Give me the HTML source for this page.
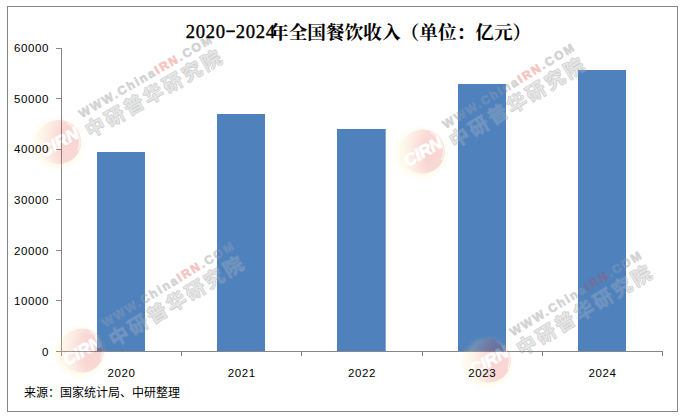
<!DOCTYPE html>
<html lang="zh-CN"><head><meta charset="utf-8"><title>2020-2024年全国餐饮收入（单位：亿元）</title>
<style>
html,body{margin:0;padding:0;background:#fff}
body{width:682px;height:417px;position:relative;overflow:hidden;font-family:"Liberation Sans",sans-serif;color:#000}
.yl{position:absolute;left:0;width:49px;text-align:right;font-size:11.5px;line-height:14px;letter-spacing:0.6px;height:14px}
.xl{position:absolute;top:366px;width:120px;text-align:center;font-size:11.5px;line-height:14px;letter-spacing:0.6px}
.tnum{position:absolute;left:185.3px;top:20.6px;font-family:"Liberation Serif",serif;font-weight:normal;-webkit-text-stroke:0.38px #000;font-size:18.6px;line-height:22px;white-space:nowrap}
.tnum span{display:inline-block;width:10px;text-align:center}
.tnum .d{color:transparent;-webkit-text-stroke:0}
.ghost{position:absolute;color:#000;white-space:nowrap;overflow:hidden}
</style></head><body>
<svg width="682" height="417" viewBox="0 0 682 417" style="position:absolute;left:0;top:0"><defs>
<radialGradient id="lg" cx="0.62" cy="0.58" r="0.75">
<stop offset="0" stop-color="#e0312a"/><stop offset="0.5" stop-color="#e5402e"/><stop offset="0.8" stop-color="#ee7a50"/><stop offset="1" stop-color="#f6c08a"/>
</radialGradient>
<radialGradient id="glow" cx="0.5" cy="0.5" r="0.5">
<stop offset="0.78" stop-color="#ffe873" stop-opacity="0.65"/><stop offset="1" stop-color="#ffe25a" stop-opacity="0"/>
</radialGradient>
<linearGradient id="fade" gradientUnits="userSpaceOnUse" x1="-19" y1="-11" x2="19" y2="11">
<stop offset="0" stop-color="#fff2b8" stop-opacity="0.9"/><stop offset="0.3" stop-color="#fff2b8" stop-opacity="0.45"/><stop offset="0.6" stop-color="#fff2b8" stop-opacity="0"/>
</linearGradient>
<g id="wml">
<circle cx="-2.2" cy="0.7" r="27.5" fill="url(#glow)"/>
<circle r="22" fill="url(#lg)"/><circle r="22" fill="url(#fade)"/>
<path d="M16.5 -12.5A21 21 0 0 1 12 17" fill="none" stroke="#fff" stroke-width="1.6" opacity="0.6"/>
<text x="0" y="6.1" text-anchor="middle" font-family="Liberation Sans, sans-serif" font-weight="bold" font-style="italic" font-size="17" fill="#fff" stroke="#fff" stroke-width="0.7">CIRN</text>
</g>
<g id="wmt">
<text x="31.6" y="-9.2" font-family="Liberation Sans, sans-serif" font-weight="bold" font-size="12" letter-spacing="1.95" fill="currentColor" stroke="currentColor" stroke-width="0.7">WWW.China<tspan fill="#e0392d" stroke="#e0392d">IRN</tspan>.COM</text>
<text x="29" y="12.5" font-family="'Liberation Sans', 'Noto Sans CJK SC', sans-serif" font-weight="bold" font-size="19.5" letter-spacing="2.8" fill="currentColor" stroke="currentColor" stroke-width="1.3" stroke-linejoin="round">中研普华研究院</text>
<text x="29" y="12.5" font-family="'Liberation Sans', 'Noto Sans CJK SC', sans-serif" font-size="19.5" letter-spacing="2.8" fill="#fff" opacity="0.5">中研普华研究院</text>
</g>
<clipPath id="cin"><path d="M97 152h48v199h-48zM217 114h48v237h-48zM337 129h48v222h-48zM458 84h48v267h-48zM578 70h48v281h-48z"/></clipPath><clipPath id="cout"><path clip-rule="evenodd" d="M0 0H682V417H0zM97 152h48v199h-48zM217 114h48v237h-48zM337 129h48v222h-48zM458 84h48v267h-48zM578 70h48v281h-48z"/></clipPath></defs>
<rect x="7.5" y="6.5" width="670" height="405" fill="#fff" stroke="#868686" stroke-width="1"/>
<rect x="97" y="152" width="48" height="199" fill="#4F81BD"/>
<rect x="217" y="114" width="48" height="237" fill="#4F81BD"/>
<rect x="337" y="129" width="48.7" height="222" fill="#4F81BD"/>
<rect x="458" y="84" width="48" height="267" fill="#4F81BD"/>
<rect x="578" y="70" width="48" height="281" fill="#4F81BD"/>
<path d="M61.5 48V356M56 351.5H663" stroke="#868686" stroke-width="1" fill="none"/>
<path d="M56 48.5H61M56 98.5H61M56 149.5H61M56 199.5H61M56 250.5H61M56 300.5H61M56 351.5H61M181.5 352V356M301.5 352V356M422.5 352V356M542.5 352V356M662.5 352V356" stroke="#868686" stroke-width="1" fill="none"/>
<rect x="226.3" y="30.4" width="8.6" height="1.8" fill="#000"/>
<use href="#wml" transform="translate(59 142) rotate(-30)" opacity="0.2"/>
<g clip-path="url(#cout)"><use href="#wmt" transform="translate(59 142) rotate(-30)" opacity="0.3" color="#6c6c6c"/></g>
<g clip-path="url(#cin)"><use href="#wmt" transform="translate(59 142) rotate(-30)" opacity="0.24" color="#b4b4b4"/></g>
<use href="#wml" transform="translate(422.7 151.5) rotate(-30)" opacity="0.2"/>
<g clip-path="url(#cout)"><use href="#wmt" transform="translate(423.6 153.15) rotate(-31.3)" opacity="0.3" color="#6c6c6c"/></g>
<g clip-path="url(#cin)"><use href="#wmt" transform="translate(423.6 153.15) rotate(-31.3)" opacity="0.24" color="#b4b4b4"/></g>
<use href="#wml" transform="translate(81.9 350.6) rotate(-30)" opacity="0.2"/>
<g clip-path="url(#cout)"><use href="#wmt" transform="translate(83.0 351.75) rotate(-31.3)" opacity="0.3" color="#6c6c6c"/></g>
<g clip-path="url(#cin)"><use href="#wmt" transform="translate(83.0 351.75) rotate(-31.3)" opacity="0.24" color="#b4b4b4"/></g>
<use href="#wml" transform="translate(488.8 360.5) rotate(-30)" opacity="0.2"/>
<g clip-path="url(#cout)"><use href="#wmt" transform="translate(490.8 360.85) rotate(-31.3)" opacity="0.3" color="#6c6c6c"/></g>
<g clip-path="url(#cin)"><use href="#wmt" transform="translate(490.8 360.85) rotate(-31.3)" opacity="0.24" color="#b4b4b4"/></g></svg>
<div class="tnum"><span>2</span><span>0</span><span>2</span><span>0</span><span class="d">-</span><span>2</span><span>0</span><span>2</span><span>4</span></div>
<div class="ghost" style="left:270px;top:22px;font-family:'Liberation Serif','Noto Serif CJK SC',serif;font-weight:bold;font-size:18.67px;line-height:22px;width:262px;height:22px">年全国餐饮收入（单位：亿元）</div>
<div class="ghost" style="left:24px;top:386px;font-family:'Liberation Sans','Noto Sans CJK SC',sans-serif;font-size:12px;line-height:14px;width:160px;height:14px">来源：国家统计局、中研整理</div>
<div class="yl" style="top:41px">60000</div><div class="yl" style="top:92px">50000</div><div class="yl" style="top:142px">40000</div><div class="yl" style="top:193px">30000</div><div class="yl" style="top:244px">20000</div><div class="yl" style="top:294px">10000</div><div class="yl" style="top:345px">0</div><div class="xl" style="left:61.40px">2020</div><div class="xl" style="left:181.65px">2021</div><div class="xl" style="left:301.90px">2022</div><div class="xl" style="left:422.15px">2023</div><div class="xl" style="left:542.40px">2024</div>
</body></html>
